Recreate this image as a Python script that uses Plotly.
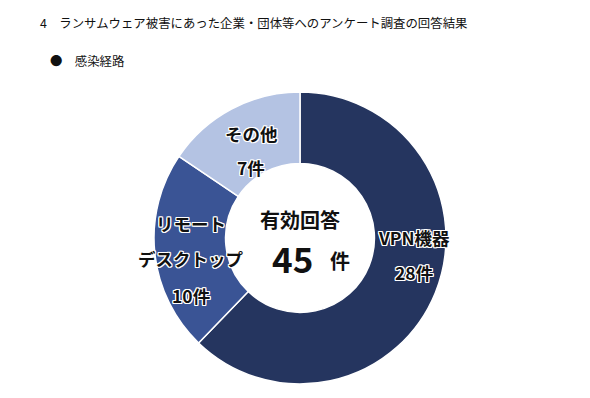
import plotly.graph_objects as go

# ---- data ----
title_text = "4　ランサムウェア被害にあった企業・団体等へのアンケート調査の回答結果"
subtitle_text = "●　感染経路"
labels = ["VPN機器", "リモートデスクトップ", "その他"]
label_lines = [["VPN機器"], ["リモート", "デスクトップ"], ["その他"]]
values = [28, 10, 7]
unit = "件"
center_label = "有効回答"

# ---- style ----
colors = ["#25355F", "#3A5495", "#B4C3E3"]
W, H = 590, 398
FONT = "Noto Sans CJK JP, Noto Sans, sans-serif"
OUTLINE = ("-1px -1px 0 #fff, 1px -1px 0 #fff, -1px 1px 0 #fff, 1px 1px 0 #fff, "
           "0 -1px 0 #fff, 0 1px 0 #fff, -1px 0 0 #fff, 1px 0 0 #fff")

# label layout (pixel positions of each line, then count line)
label_layout = [
    (414, [237], 272),
    (191, [223, 258], 295),
    (251, [133], 167),
]

cx, cy, r = 300, 238, 146


def px(x):
    return x / W


def py(y):
    return 1 - y / H


fig = go.Figure(go.Pie(
    labels=labels,
    values=values,
    hole=0.51,
    sort=False,
    direction="clockwise",
    rotation=0,
    marker=dict(colors=colors, line=dict(color="white", width=1.5)),
    textinfo="none",
    hoverinfo="label+value",
    showlegend=False,
    domain=dict(x=[px(cx - r), px(cx + r)], y=[py(cy + r), py(cy - r)]),
))

ann = []
ann.append(dict(text=title_text, x=px(38), y=py(23), xanchor="left", yanchor="middle",
                font=dict(size=12.4, color="#111", family=FONT)))
ann.append(dict(text=subtitle_text, x=px(48), y=py(61), xanchor="left", yanchor="middle",
                font=dict(size=12.4, color="#111", family=FONT)))

for lines, val, (x, ys, yc) in zip(label_lines, values, label_layout):
    for line, y in zip(lines, ys):
        ann.append(dict(text=f"<b>{line}</b>", x=px(x), y=py(y), xanchor="center", yanchor="middle",
                        font=dict(size=17.5, color="#111", family=FONT, shadow=OUTLINE)))
    ann.append(dict(text=f"<b>{val}{unit}</b>", x=px(x), y=py(yc), xanchor="center", yanchor="middle",
                    font=dict(size=17.5, color="#111", family=FONT, shadow=OUTLINE)))

total = sum(values)
ann.append(dict(text=f"<b>{center_label}</b>", x=px(300), y=py(220), xanchor="center", yanchor="middle",
                font=dict(size=20, color="#111", family=FONT)))
ann.append(dict(text=f"<b>{total}</b>", x=px(292), y=py(257), xanchor="center", yanchor="middle",
                font=dict(size=35, color="#111", family=FONT)))
ann.append(dict(text=f"<b>{unit}</b>", x=px(340), y=py(260), xanchor="center", yanchor="middle",
                font=dict(size=20, color="#111", family=FONT)))

for a in ann:
    a.update(xref="paper", yref="paper", showarrow=False)

fig.update_layout(
    width=W, height=H,
    margin=dict(l=0, r=0, t=0, b=0),
    paper_bgcolor="white",
    plot_bgcolor="white",
    annotations=ann,
)

fig.write_html("out.html", config={"displayModeBar": False},
               post_script="document.body.style.margin='0';")
